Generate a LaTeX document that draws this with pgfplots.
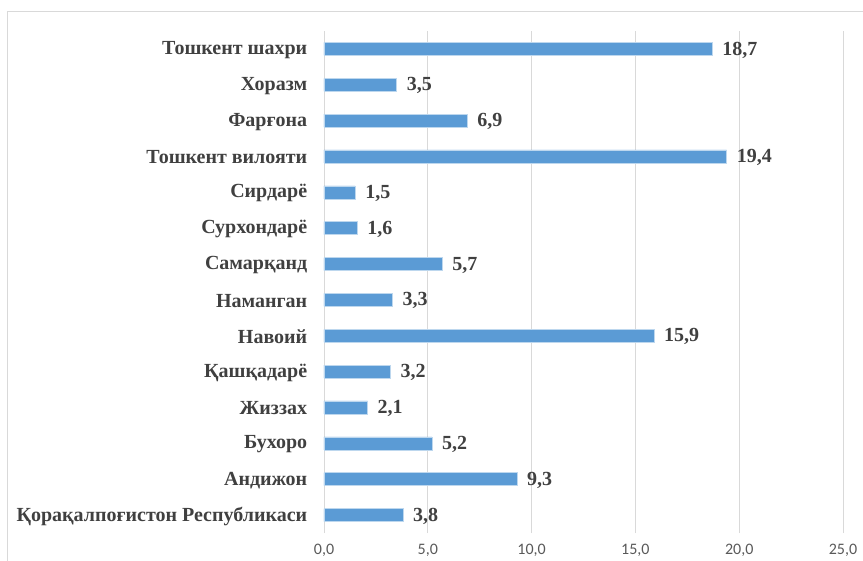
\documentclass[border=0pt]{standalone}
\usepackage{pgfplots}
\pgfplotsset{compat=1.18}
\usepackage{fontspec}
\setmainfont{Liberation Serif}
\newfontfamily\carlito{Carlito}
\definecolor{barblue}{HTML}{5B9BD5}
\definecolor{txt}{HTML}{404040}
\definecolor{ticktxt}{HTML}{595959}
\definecolor{gridc}{HTML}{D9D9D9}
\begin{document}
\begin{tikzpicture}
\begin{axis}[
  scale only axis, width=519bp, height=502bp,
  xmin=0, xmax=25, ymin=-0.5, ymax=13.5,
  xbar, bar width=13bp,
  axis line style={draw=none},
  xmajorgrids, major grid style={gridc, line width=0.8pt},
  tick style={draw=none},
  xtick={0,5,...,25},
  xticklabel style={font=\carlito\fontsize{16bp}{18bp}\selectfont, text=ticktxt, yshift=-7.5bp,
    /pgf/number format/.cd, use comma, fixed, fixed zerofill, precision=1, assume math mode=true},
  ytick={0,...,13},
  yticklabels={Қорақалпоғистон Республикаси, Андижон, Бухоро, Жиззах, Қашқадарё, Навоий, Наманган, Самарқанд, Сурхондарё, Сирдарё, Тошкент вилояти, Фарғона, Хоразм, Тошкент шахри},
  yticklabel style={font=\bfseries\fontsize{20bp}{22bp}\selectfont, text=txt, xshift=-9bp, yshift=-1bp},
  nodes near coords,
  nodes near coords style={font=\bfseries\fontsize{20bp}{22bp}\selectfont, text=txt, xshift=6.5bp, yshift=-1bp,
    /pgf/number format/.cd, use comma, fixed, fixed zerofill, precision=1, assume math mode=true},
]
\coordinate (ll) at (rel axis cs:0,0);
\coordinate (ur) at (rel axis cs:1,1);
\addplot[fill=barblue, draw=white!60!barblue, line width=0.6pt] coordinates {
(3.8,0) (9.3,1) (5.2,2) (2.1,3) (3.2,4) (15.9,5) (3.3,6) (5.7,7) (1.6,8) (1.5,9) (19.4,10) (6.9,11) (3.5,12) (18.7,13)};
\end{axis}
\path[use as bounding box] ([xshift=-324bp,yshift=-28bp]ll) rectangle ([xshift=20bp,yshift=31bp]ur);
\draw[gridc, line width=0.8pt] ([xshift=-317bp,yshift=-60bp]ll) rectangle ([xshift=60bp,yshift=20bp]ur);
\end{tikzpicture}
\end{document}
